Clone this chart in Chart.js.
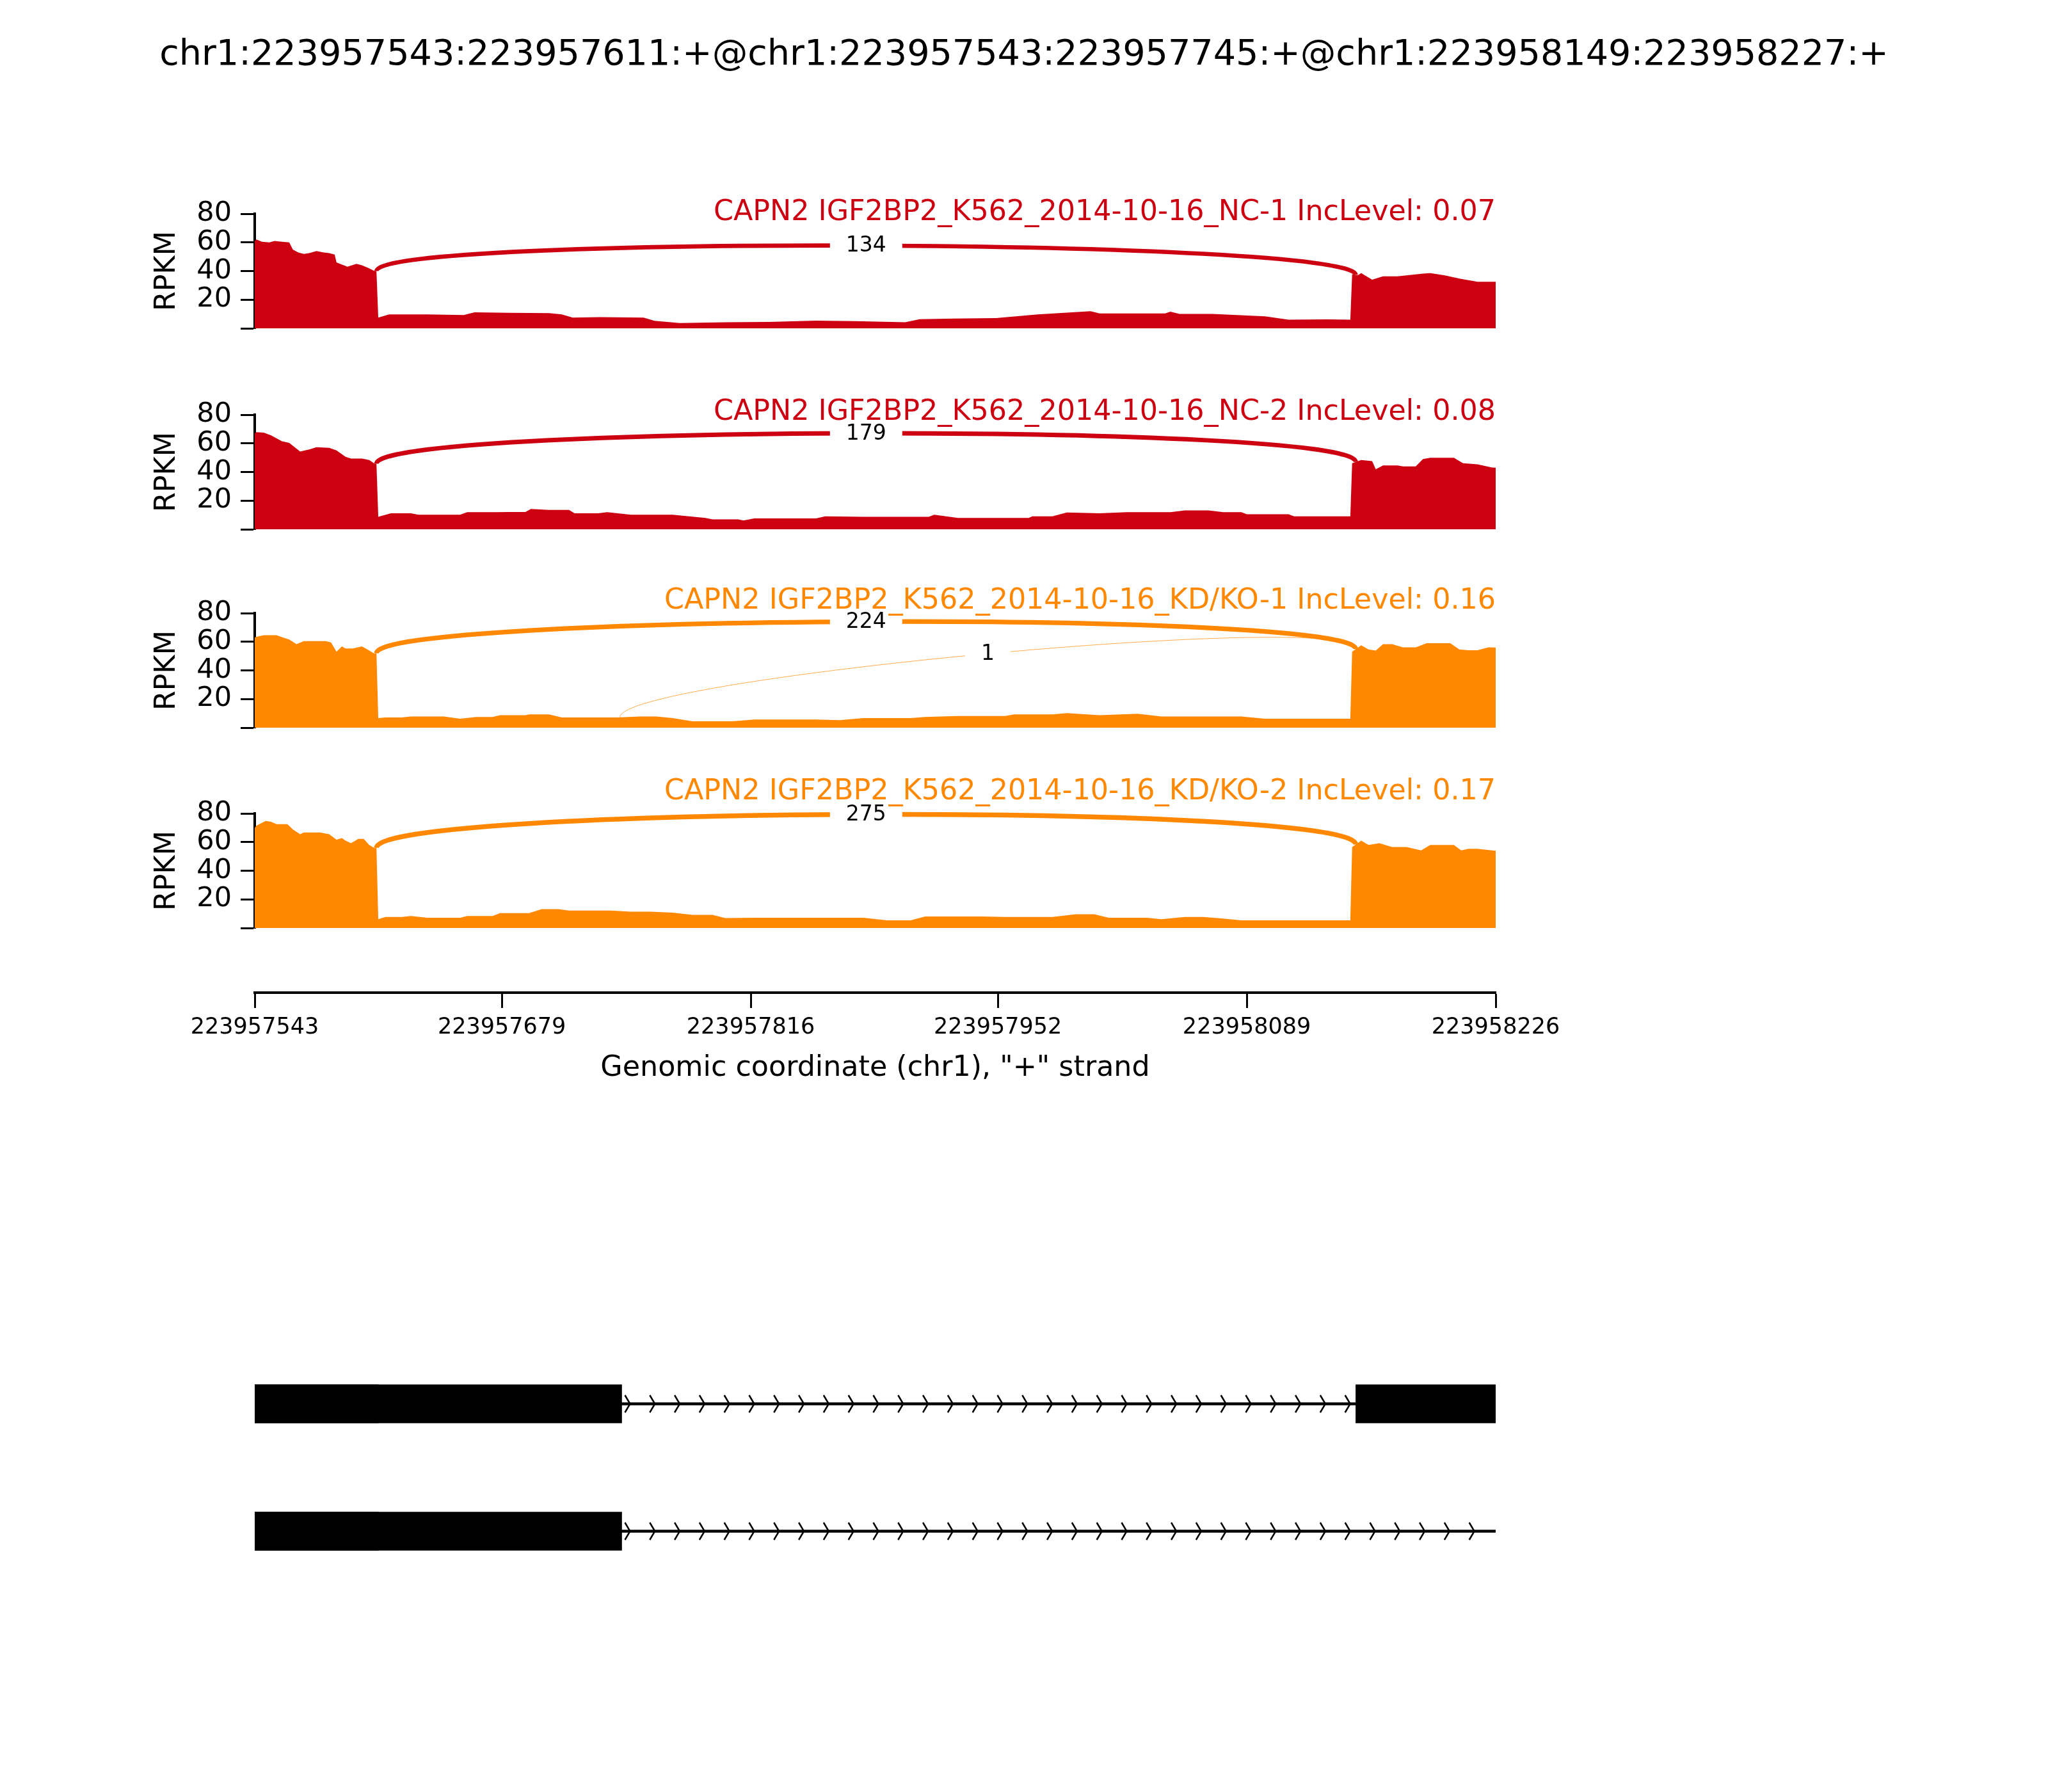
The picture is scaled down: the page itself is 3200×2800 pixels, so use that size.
<!DOCTYPE html>
<html>
<head>
<meta charset="utf-8">
<script src="https://cdn.jsdelivr.net/npm/chart.js@4.4.1/dist/chart.umd.min.js"></script>
<style>
html, body { margin: 0; padding: 0; background: #fff; width: 3200px; height: 2800px; overflow: hidden; }
#wrap { position: relative; width: 3200px; height: 2800px; background: #fff; }
canvas { position: absolute; left: 0; }
#title { position: absolute; left: 0; top: 52px; width: 3200px; text-align: center;
  font-family: 'DejaVu Sans', sans-serif; font-size: 55.6px; line-height: 60px; color: #000; white-space: nowrap; }
</style>
</head>
<body>
<div id="wrap">
  <div id="title">chr1:223957543:223957611:+@chr1:223957543:223957745:+@chr1:223958149:223958227:+</div>
  <canvas id="p0" width="3200" height="339" style="top:204px"></canvas>
  <canvas id="p1" width="3200" height="339" style="top:518px"></canvas>
  <canvas id="p2" width="3200" height="339" style="top:828px"></canvas>
  <canvas id="p3" width="3200" height="339" style="top:1141px"></canvas>
  <canvas id="xaxis" width="3200" height="246" style="top:1450px"></canvas>
  <canvas id="genes" width="3200" height="398" style="top:2094px"></canvas>
</div>
<script>
// ---------------- DATA ----------------
const START = 223957543;
const END = 223958226;
const xTickValues = [223957543, 223957679, 223957816, 223957952, 223958089, 223958226];

const sampleLabels = [
  'CAPN2 IGF2BP2_K562_2014-10-16_NC-1 IncLevel: 0.07',
  'CAPN2 IGF2BP2_K562_2014-10-16_NC-2 IncLevel: 0.08',
  'CAPN2 IGF2BP2_K562_2014-10-16_KD/KO-1 IncLevel: 0.16',
  'CAPN2 IGF2BP2_K562_2014-10-16_KD/KO-2 IncLevel: 0.17'
];

// coverage: offsets (bp from START) and RPKM values
const nc1Pos = [0,1,4,8,11,15,19,21,24,27,30,34,38,41,44,45,47,51,56,59,62,66,67,68,74,95,115,121,140,162,169,175,190,214,220,234,260,283,309,330,358,366,385,408,431,460,465,501,504,509,527,556,569,590,603,604,607,609,615,621,629,643,647,655,663,673,682,683];
const nc1Cov = [61,62,60.5,60,61,60.5,60,55,53,52,52.5,54,53,52.5,51.5,46,45,43,45,44,42.5,40,40,7.5,9.7,9.7,9.3,11.2,10.8,10.6,9.7,7.5,7.8,7.5,5.2,3.7,4.2,4.5,5.4,5,4.2,6.4,6.8,7.2,9.7,11.9,10.4,10.4,11.6,10.1,10.1,8.4,6,6.3,6,37.8,37,38.5,34,36.3,36.3,38.2,38.5,37,34.8,32.5,32.5,32.5];

const nc2Pos = [0,1,5,9,15,19,22,25,30,34,41,45,48,50,53,59,63,66,67,68,75,86,90,113,117,133,140,149,152,162,173,176,189,194,207,230,248,252,266,269,275,309,314,335,371,374,387,426,428,439,447,465,480,504,512,525,533,543,546,569,572,603,604,609,615,617,621,629,632,639,643,647,660,665,673,681,683];
const nc2Cov = [67,67.8,67.5,65.6,61.4,60.3,57.3,54.3,55.8,57.3,56.9,55.1,52.4,50.6,49.4,49.4,48.4,45.8,45.8,8.7,11.2,11.2,10.2,10.2,12,12,12.1,12.1,14.2,13.5,13.5,11.2,11.2,12,10.2,10.2,7.9,6.9,6.9,6.1,7.6,7.6,9.1,8.7,8.7,10.2,7.9,7.9,9,9,11.7,11.2,12,12,13.2,13.2,12,12,10.5,10.5,9,9,46.1,48.4,47.6,41.9,44.6,44.6,43.9,43.9,49.1,49.9,49.9,46.1,45.4,43.1,43];

const kd1Pos = [0,1,5,12,16,19,23,27,39,42,45,48,50,54,59,62,66,67,68,72,81,86,104,113,122,131,135,149,151,162,169,200,212,221,230,241,263,275,288,309,322,335,361,369,387,413,418,439,447,465,486,499,543,556,603,604,609,613,617,621,626,632,639,645,658,663,668,673,679,683];
const kd1Cov = [63,63.5,64.6,64.6,62.8,61.6,58.3,60.5,60.5,59.5,53.1,56.8,55.3,55.3,56.8,54.6,51.6,52,6.7,7.2,7.2,7.8,7.8,6.3,7.5,7.5,8.7,8.7,9.3,9.3,7.2,7.2,7.8,7.8,6.7,4.5,4.5,5.7,5.7,5.7,5.2,6.7,6.7,7.5,8.2,8.2,9.3,9.3,10.2,8.7,9.7,7.8,7.8,6.3,6.3,53.1,57.5,54.6,53.8,58.3,58.3,56.1,56.1,59,59,54.6,54.1,54.1,56.1,56];

const kd2Pos = [0,1,6,9,12,18,21,25,27,36,41,45,48,50,53,57,60,63,66,67,68,72,81,86,95,113,117,131,135,151,158,167,173,196,207,218,230,241,252,259,275,288,335,348,361,369,400,413,439,452,462,470,491,499,512,522,533,543,603,604,609,613,619,626,634,642,647,660,664,668,673,681,683];
const kd2Cov = [70,71.5,74.8,74.2,72.5,72.5,68.8,65.5,66.7,66.7,65.5,61.7,62.8,61,59.2,62.2,62.2,58,55.7,56,6.2,7.7,7.7,8.4,7.2,7.2,8.4,8.4,10.4,10.4,13.2,13.2,12.2,12.2,11.4,11.4,10.7,9.2,9.2,6.9,7.2,7.2,7.2,5.4,5.4,8.1,8.1,7.7,7.7,9.6,9.6,7.2,7.2,6.2,7.7,7.7,6.6,5.4,5.4,56.5,61,58,59.2,56.5,56.5,54.2,58,58,54.2,55.3,55.3,54.2,54];

// junctions: [donor, acceptor, read count]
const nc1Junctions = [[223957611, 223958149, 134]];
const nc2Junctions = [[223957611, 223958149, 179]];
const kd1Junctions = [[223957611, 223958149, 224], [223957745, 223958149, 1]];
const kd2Junctions = [[223957611, 223958149, 275]];

// gene model
const transcriptNames = ['transcript 1', 'transcript 2'];
const tx1Exons = [[223957543, 223957611], [223957543, 223957745], [223958149, 223958227]];
const tx2Exons = [[223957543, 223957611], [223957543, 223957745]];
const tx1Span = [223957543, 223958227];
const tx2Span = [223957543, 223958226];
const tx1Introns = [[223957745, 223958149]];
const tx2Introns = [[223957745, 223958226]];

// ---------------- STYLE / LAYOUT ----------------
Chart.defaults.font.family = "'DejaVu Sans', sans-serif";
const RED = '#CC0011', ORANGE = '#FF8800';
const samples = [
  { pos: nc1Pos, cov: nc1Cov, jx: nc1Junctions, color: RED,    arcH: 25.5, labelY: 80.5 },
  { pos: nc2Pos, cov: nc2Cov, jx: nc2Junctions, color: RED,    arcH: 27.5, labelY: 81.5 },
  { pos: kd1Pos, cov: kd1Cov, jx: kd1Junctions, color: ORANGE, arcH: 27.5, labelY: 88.5 },
  { pos: kd2Pos, cov: kd2Cov, jx: kd2Junctions, color: ORANGE, arcH: 29.5, labelY: 95 }
];
const maxCount = Math.max(...samples.flatMap(s => s.jx.map(j => j[2])));

function covAt(pos, cov, off) {
  for (let i = 0; i < pos.length - 1; i++) {
    if (off >= pos[i] && off <= pos[i + 1]) {
      const t = (off - pos[i]) / (pos[i + 1] - pos[i]);
      return cov[i] + t * (cov[i + 1] - cov[i]);
    }
  }
  return cov[cov.length - 1];
}

function makePanel(i) {
  const s = samples[i];
  const sashimi = {
    id: 'sashimi' + i,
    afterDatasetsDraw(chart) {
      const { ctx, chartArea } = chart;
      const x = chart.scales.x, y = chart.scales.y;
      const labels = [];
      s.jx.forEach(j => {
        const a = j[0] - 1, b = j[1];
        const l = covAt(s.pos, s.cov, a - START);
        const r = covAt(s.pos, s.cov, b - START);
        const x1 = x.getPixelForValue(a), x2 = x.getPixelForValue(b);
        const P0 = [x1, y.getPixelForValue(l)], P1 = [x1, y.getPixelForValue(l + s.arcH)];
        const P2 = [x2, y.getPixelForValue(r + s.arcH)], P3 = [x2, y.getPixelForValue(r)];
        ctx.save();
        ctx.beginPath();
        ctx.moveTo(P0[0], P0[1]);
        ctx.bezierCurveTo(P1[0], P1[1], P2[0], P2[1], P3[0], P3[1]);
        ctx.lineWidth = Math.max(1, 7.5 * Math.log(j[2] + 1) / Math.log(maxCount + 1));
        ctx.strokeStyle = s.color;
        if (j[2] < 2) ctx.globalAlpha = 0.7;
        ctx.stroke();
        ctx.restore();
        labels.push({ x: (P0[0] + 3 * P1[0] + 3 * P2[0] + P3[0]) / 8,
                      y: (P0[1] + 3 * P1[1] + 3 * P2[1] + P3[1]) / 8, t: String(j[2]) });
      });
      labels.forEach(lb => {
        ctx.save();
        ctx.font = "33px 'DejaVu Sans'";
        const w = ctx.measureText(lb.t).width;
        ctx.fillStyle = '#fff';
        ctx.fillRect(lb.x - w / 2 - 25, lb.y - 40, w + 50, 80);
        ctx.fillStyle = '#000';
        ctx.textAlign = 'center';
        ctx.textBaseline = 'middle';
        ctx.fillText(lb.t, lb.x, lb.y + 1);
        ctx.restore();
      });
      ctx.save();
      ctx.font = "44.4px 'DejaVu Sans'";
      ctx.fillStyle = s.color;
      ctx.textAlign = 'right';
      ctx.textBaseline = 'middle';
      ctx.fillText(sampleLabels[i], chartArea.right, y.getPixelForValue(s.labelY));
      ctx.restore();
    }
  };
  new Chart(document.getElementById('p' + i), {
    type: 'line',
    data: { datasets: [{
      data: s.pos.map((p, k) => ({ x: START + p, y: s.cov[k] })),
      fill: 'origin', backgroundColor: s.color, borderColor: s.color,
      borderWidth: 0, pointRadius: 0, tension: 0
    }] },
    options: {
      responsive: false, animation: false, devicePixelRatio: 1,
      layout: { padding: { left: 235, right: 863, top: 130, bottom: 30 } },
      plugins: { legend: { display: false }, tooltip: { enabled: false } },
      scales: {
        x: { type: 'linear', min: START, max: END, display: false },
        y: {
          min: 0, max: 80, z: 1,
          afterFit: sc => { sc.width = 163; sc.paddingTop = 0; sc.paddingBottom = 0; },
          ticks: { stepSize: 20, autoSkip: false, color: '#000', font: { size: 43 }, padding: 14,
                   callback: v => (v === 0 ? '' : String(v)) },
          grid: { drawOnChartArea: false, drawTicks: true, tickLength: 22, tickWidth: 3, color: '#000' },
          border: { display: true, color: '#000', width: 4 },
          title: { display: true, text: 'RPKM', color: '#000', font: { size: 44.4 }, padding: 0 }
        }
      }
    },
    plugins: [sashimi]
  });
}
[0, 1, 2, 3].forEach(makePanel);

// x axis
new Chart(document.getElementById('xaxis'), {
  type: 'scatter',
  data: { datasets: [{ data: [] }] },
  options: {
    responsive: false, animation: false, devicePixelRatio: 1,
    layout: { padding: { left: 398, right: 863, top: 0, bottom: 0 } },
    plugins: { legend: { display: false }, tooltip: { enabled: false } },
    scales: {
      x: {
        type: 'linear', min: START, max: END, position: 'bottom',
        afterBuildTicks: sc => { sc.ticks = xTickValues.map(v => ({ value: v })); },
        afterFit: sc => { sc.height = 145; sc.paddingLeft = 0; sc.paddingRight = 0; },
        ticks: { color: '#000', font: { size: 35 }, padding: 10, maxRotation: 0, autoSkip: false,
                 callback: v => String(v) },
        grid: { drawOnChartArea: false, drawTicks: true, tickLength: 24, tickWidth: 3, color: '#000' },
        border: { display: true, color: '#000', width: 4 },
        title: { display: true, text: 'Genomic coordinate (chr1), "+" strand', color: '#000',
                 font: { size: 44.4 }, padding: 0 }
      },
      y: { display: false, min: 0, max: 1 }
    }
  }
});

// gene model
const txExons = [tx1Exons, tx2Exons];
const txSpans = [tx1Span, tx2Span];
const txIntrons = [tx1Introns, tx2Introns];
const nEx = Math.max(...txExons.map(e => e.length));
const geneDatasets = [];
for (let k = 0; k < nEx; k++) {
  geneDatasets.push({ data: txExons.map(e => e[k] || null), barThickness: 60,
    backgroundColor: '#000', borderColor: '#000', borderWidth: 0 });
}
geneDatasets.push({ data: txSpans, barThickness: 4, backgroundColor: '#000', borderColor: '#000', borderWidth: 0 });

const chevrons = {
  id: 'chevrons',
  afterDatasetsDraw(chart) {
    const { ctx } = chart;
    const x = chart.scales.x, y = chart.scales.y;
    const stepPx = 38.8;
    ctx.save();
    ctx.strokeStyle = '#000';
    ctx.lineWidth = 2.5;
    txIntrons.forEach((introns, row) => {
      const yc = y.getPixelForValue(row);
      introns.forEach(([a, b]) => {
        const xa = x.getPixelForValue(a), xb = x.getPixelForValue(b);
        for (let tip = xa + 13; tip < xb - 4; tip += stepPx) {
          ctx.beginPath();
          ctx.moveTo(tip - 8, yc - 13.5);
          ctx.lineTo(tip, yc);
          ctx.lineTo(tip - 8, yc + 13.5);
          ctx.stroke();
        }
      });
    });
    ctx.restore();
  }
};

new Chart(document.getElementById('genes'), {
  type: 'bar',
  data: { labels: transcriptNames, datasets: geneDatasets },
  options: {
    indexAxis: 'y', responsive: false, animation: false, devicePixelRatio: 1,
    layout: { padding: { left: 398, right: 863, top: 0, bottom: 0 } },
    plugins: { legend: { display: false }, tooltip: { enabled: false } },
    datasets: { bar: { grouped: false, borderSkipped: false } },
    scales: {
      x: { type: 'linear', min: START, max: END, display: false },
      y: { display: false }
    }
  },
  plugins: [chevrons]
});
</script>
</body>
</html>
